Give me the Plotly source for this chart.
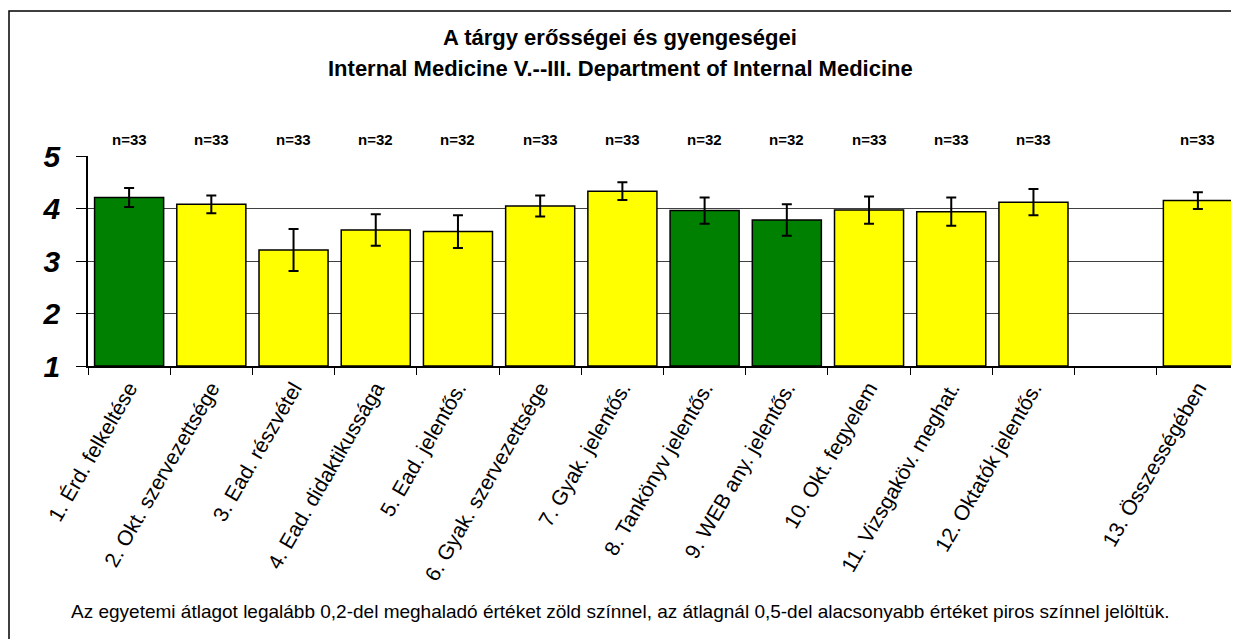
import plotly.graph_objects as go

# data
labels = ["1. Érd. felkeltése", "2. Okt. szervezettsége", "3. Ead. részvétel",
          "4. Ead. didaktikussága", "5. Ead. jelentős.", "6. Gyak. szervezettsége",
          "7. Gyak. jelentős.", "8. Tankönyv jelentős.", "9. WEB any. jelentős.",
          "10. Okt. fegyelem", "11. Vizsgaköv. meghat.", "12. Oktatók jelentős.",
          " ", "13. Összességében"]
means = [4.21, 4.08, 3.21, 3.59, 3.56, 4.05, 4.33, 3.96, 3.78, 3.97, 3.94, 4.12, None, 4.15]
errors = [0.18, 0.17, 0.40, 0.30, 0.31, 0.20, 0.17, 0.25, 0.30, 0.26, 0.27, 0.25, None, 0.16]
n_counts = ["n=33", "n=33", "n=33", "n=32", "n=32", "n=33", "n=33", "n=32", "n=32",
            "n=33", "n=33", "n=33", "", "n=33"]
highlighted = ["1. Érd. felkeltése", "8. Tankönyv jelentős.", "9. WEB any. jelentős."]

font = "Arial, Liberation Sans, sans-serif"
bar_colors = ["#008000" if l in highlighted else "#FFFF00" for l in labels]

fig = go.Figure()
fig.add_trace(go.Bar(
    x=labels, y=[None if m is None else m - 1 for m in means], base=1,
    marker=dict(color=bar_colors, line=dict(color="black", width=1.5)),
    error_y=dict(type="data", array=errors, color="black", thickness=2, width=5),
    width=0.84, showlegend=False, hoverinfo="skip",
))

# page body has an 8px margin, so positions below are in figure pixels
W, H = 1239, 639
L, R, T, B = 80, 8, 148, 281
pw, ph = W - L - R, H - T - B
px = lambda x: (x - L) / pw
py = lambda y: (H - B - y) / ph

annotations = [
    dict(x=lab, y=py(131), xref="x", yref="paper", text=f"<b>{n}</b>", showarrow=False,
         xanchor="center", yanchor="middle", font=dict(size=15, family=font, color="black"))
    for lab, n in zip(labels, n_counts) if n
]
annotations += [
    dict(text="<b>A tárgy erősségei és gyengeségei</b>", xref="paper", yref="paper",
         x=px(612), y=py(29), showarrow=False, xanchor="center", yanchor="middle",
         font=dict(size=22, family=font)),
    dict(text="<b>Internal Medicine V.--III. Department of Internal Medicine</b>",
         xref="paper", yref="paper", x=px(612), y=py(61), showarrow=False,
         xanchor="center", yanchor="middle", font=dict(size=22, family=font)),
    dict(text="Az egyetemi átlagot legalább 0,2-del meghaladó értéket zöld színnel, "
              "az átlagnál 0,5-del alacsonyabb értéket piros színnel jelöltük.",
         xref="paper", yref="paper", x=px(612), y=py(603), showarrow=False,
         xanchor="center", yanchor="middle", font=dict(size=19, family=font)),
]

fig.update_layout(
    width=W, height=H,
    margin=dict(l=L, r=R, t=T, b=B),
    paper_bgcolor="white", plot_bgcolor="white",
    font=dict(family=font, color="black"),
    xaxis=dict(
        type="category", categoryorder="array", categoryarray=labels,
        showline=True, linecolor="black", linewidth=1.5,
        ticks="outside", tickson="boundaries", ticklen=7, tickcolor="black",
        tickangle=-60, tickfont=dict(size=21, family=font),
        showgrid=False, range=[-0.5, len(labels) - 0.5],
    ),
    yaxis=dict(
        range=[1, 5], tickvals=[1, 2, 3, 4, 5],
        tickfont=dict(size=30, family=font, weight="bold", style="italic"),
        showline=True, linecolor="black", linewidth=1.5,
        ticks="outside", ticklen=10, tickcolor="black",
        showgrid=True, gridcolor="#404040", gridwidth=1,
        zeroline=False, ticklabelstandoff=10,
    ),
    annotations=annotations,
    shapes=[dict(type="rect", xref="paper", yref="paper",
                 x0=px(1), x1=px(1260), y0=py(660), y1=py(3),
                 line=dict(color="black", width=1.5), layer="below")],
)

fig.write_html("out.html")
